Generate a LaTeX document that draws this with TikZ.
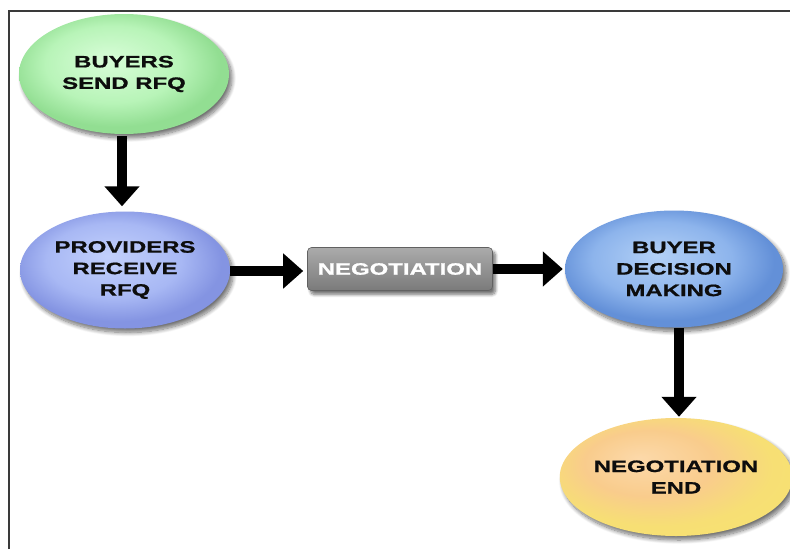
\documentclass[tikz,border=0pt]{standalone}
\usepackage{fontspec}
\newfontfamily\dfont{Liberation Sans}[FakeStretch=1.45, BoldFeatures={FakeBold=1.0}]
\usetikzlibrary{arrows.meta,shapes.geometric,shadows.blur}
\definecolor{gA}{HTML}{D8FDD8}
\definecolor{gB}{HTML}{B8F4B8}
\definecolor{gC}{HTML}{92DE92}
\definecolor{pA}{HTML}{C2D0FC}
\definecolor{pB}{HTML}{A8B8F4}
\definecolor{pC}{HTML}{8494E2}
\definecolor{bA}{HTML}{B2D0F6}
\definecolor{bB}{HTML}{8DB4EC}
\definecolor{bC}{HTML}{6390D8}
\definecolor{oA}{HTML}{FCD9AA}
\definecolor{oB}{HTML}{F9CC8C}
\definecolor{oC}{HTML}{F6E46E}
\definecolor{frame}{HTML}{3A3A3A}
\pgfdeclareradialshading{greenball}{\pgfpoint{-4bp}{6bp}}{color(0bp)=(gA); color(16bp)=(gB); color(25bp)=(gC); color(50bp)=(gC)}
\pgfdeclareradialshading{provball}{\pgfpoint{-4bp}{6bp}}{color(0bp)=(pA); color(16bp)=(pB); color(25bp)=(pC); color(50bp)=(pC)}
\pgfdeclareradialshading{buyball}{\pgfpoint{-4bp}{6bp}}{color(0bp)=(bA); color(16bp)=(bB); color(25bp)=(bC); color(50bp)=(bC)}
\pgfdeclareradialshading{endball}{\pgfpoint{-8bp}{8bp}}{color(0bp)=(oA); color(14bp)=(oB); color(20bp)=(oB!55!oC); color(25bp)=(oC!80!oB); color(50bp)=(oC)}
\begin{document}
\begin{tikzpicture}[x=1pt,y=-1pt,
  lbl/.style={font=\dfont\bfseries\fontsize{16.5}{21.5}\selectfont, align=center},
  ell/.style={ellipse, inner sep=0pt, lbl, text=black!95,
    blur shadow={shadow xshift=3pt, shadow yshift=-4pt, shadow blur radius=4pt, shadow blur steps=10, shadow opacity=55}},
  negbox/.style={rectangle, rounded corners=4pt, inner sep=0pt, lbl, text=white,
    minimum width=185pt, minimum height=43pt, top color=black!33, bottom color=black!52, draw=black!62, line width=0.6pt,
    blur shadow={shadow xshift=3pt, shadow yshift=-4pt, shadow blur radius=3pt, shadow blur steps=8, shadow opacity=55}},
  arr/.style={line width=10pt, draw=black, -{Triangle[width=34pt,length=20pt]}}
]
\useasboundingbox (0,0) rectangle (790,549);
\draw[frame, line width=2pt] (9,549) -- (9,11) -- (790,11);

\node[ell, shading=greenball, minimum width=210pt, minimum height=120pt] (buyers) at (124,74)
  {\fontsize{16.5}{19.5}\selectfont BUYERS\\SEND RFQ};
\node[ell, shading=provball, minimum width=210pt, minimum height=117pt] (prov) at (125,270)
  {PROVIDERS\\RECEIVE\\RFQ};
\node[negbox] (neg) at (400,269) {NEGOTIATION};
\node[ell, shading=buyball, minimum width=218pt, minimum height=117pt] (dec) at (674,269)
  {BUYER\\DECISION\\MAKING};
\node[ell, shading=endball, minimum width=216pt, minimum height=118pt] (end) at (676,477)
  {\fontsize{16.5}{24}\selectfont NEGOTIATION\\END};

\draw[arr, shorten <=2pt, shorten >=5pt] ([xshift=-2pt]buyers.south) -- ([xshift=-3pt]prov.north);
\draw[arr, shorten >=4pt] ([yshift=-1pt]prov.east) -- ([yshift=-1pt]prov.east -| neg.west);
\draw[arr, shorten >=2pt] (neg.east) -- (neg.east -| dec.west);
\draw[arr, shorten >=1pt] ([xshift=5pt]dec.south) -- ([xshift=3pt]end.north);
\end{tikzpicture}
\end{document}
